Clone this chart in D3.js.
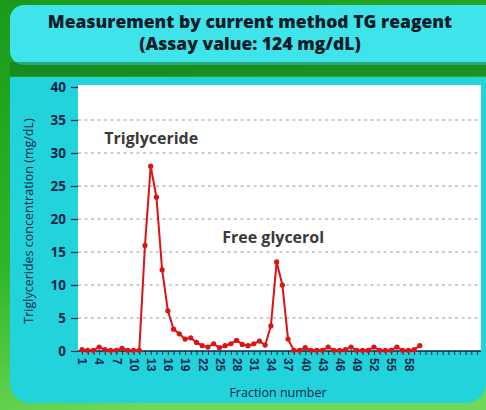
<!DOCTYPE html>
<html>
<head>
<meta charset="utf-8">
<script src="https://cdn.jsdelivr.net/npm/d3@7"></script>
<style>
  body { margin: 0; padding: 0; overflow: hidden; }
  svg { display: block; font-family: "Open Sans", "Noto Sans", sans-serif; }
</style>
</head>
<body>
<div id="graph"></div>
<script>
const width = 486;
const height = 410;

const fractions = d3.range(1, 61);
const values = [
  0.2, 0.1, 0.1, 0.6, 0.2, 0.1, 0.1, 0.4, 0.1, 0.1,
  0.1, 16.0, 28.0, 23.3, 12.3, 6.1, 3.3, 2.6, 1.8, 2.0,
  1.3, 0.8, 0.6, 1.1, 0.5, 0.8, 1.1, 1.6, 1.0, 0.8,
  1.1, 1.5, 0.9, 3.8, 13.5, 10.0, 1.8, 0.1, 0.1, 0.5,
  0.1, 0.1, 0.1, 0.6, 0.1, 0.1, 0.2, 0.6, 0.1, 0.1,
  0.1, 0.6, 0.1, 0.1, 0.1, 0.6, 0.1, 0.1, 0.2, 0.8
];
const y_ticks = [0, 5, 10, 15, 20, 25, 30, 35, 40];
const x_labels = d3.range(1, 59, 3);
const title_lines = ["Measurement by current method TG reagent", "(Assay value: 124 mg/dL)"];
const peak_labels = [
  { text: "Triglyceride", fraction: 4.9, value: 31.3 },
  { text: "Free glycerol", fraction: 25.5, value: 16.4 }
];

const plot = { left: 78, right: 481, top: 85, bottom: 351 };
const navy = "#0c2748";

const svg = d3.select("#graph").append("svg")
  .attr("width", width)
  .attr("height", height);

// background
const defs = svg.append("defs");
const bg = defs.append("linearGradient").attr("id", "bg")
  .attr("x1", 0).attr("y1", 0).attr("x2", 0.3).attr("y2", 1);
bg.append("stop").attr("offset", "0%").attr("stop-color", "#1a9a1a");
bg.append("stop").attr("offset", "60%").attr("stop-color", "#2fb52a");
bg.append("stop").attr("offset", "100%").attr("stop-color", "#6fd85a");
svg.append("rect").attr("width", width).attr("height", height).attr("fill", "url(#bg)");

// title box
svg.append("rect")
  .attr("x", 10).attr("y", 5).attr("width", 490).attr("height", 60)
  .attr("rx", 14).attr("fill", "#3fe3ea");
svg.append("rect")
  .attr("x", 10).attr("y", 62).attr("width", 480).attr("height", 14)
  .attr("fill", "#137a20").attr("opacity", 0.55);

// chart panel
svg.append("rect")
  .attr("x", 10).attr("y", 77).attr("width", 476).attr("height", 326)
  .attr("rx", 20).attr("fill", "#22d3dc");
svg.append("rect")
  .attr("x", 10).attr("y", 77).attr("width", 476).attr("height", 40)
  .attr("fill", "#22d3dc");

svg.append("g").selectAll("text")
  .data(title_lines)
  .join("text")
  .attr("x", 250)
  .attr("y", (d, i) => 28 + i * 22)
  .attr("text-anchor", "middle")
  .attr("font-size", 17.5)
  .attr("font-weight", 800)
  .attr("fill", "#0f1c2a")
  .text(d => d);

// plot area
svg.append("rect")
  .attr("x", plot.left).attr("y", plot.top)
  .attr("width", plot.right - plot.left).attr("height", plot.bottom - plot.top)
  .attr("fill", "#ffffff");

const x = d3.scaleLinear().domain([1, 70]).range([82, 477]);
const y = d3.scaleLinear().domain([0, 40]).range([plot.bottom, 87]);

// grid
svg.append("g").selectAll("line")
  .data(y_ticks.filter(d => d > 0 && d < 40))
  .join("line")
  .attr("x1", plot.left).attr("x2", plot.right)
  .attr("y1", d => y(d)).attr("y2", d => y(d))
  .attr("stroke", "#9a9a9a")
  .attr("stroke-width", 1.2)
  .attr("stroke-dasharray", "3,3.5");

// y axis
const yAxis = svg.append("g")
  .attr("transform", `translate(${plot.left},0)`)
  .call(d3.axisLeft(y).tickValues(y_ticks).tickSize(7).tickPadding(5));
yAxis.select(".domain").remove();
yAxis.selectAll(".tick line").attr("stroke", navy).attr("stroke-width", 1.2);
yAxis.selectAll(".tick text")
  .attr("font-size", 13.5)
  .attr("font-weight", "bold")
  .attr("font-family", "'Open Sans', sans-serif")
  .attr("fill", navy);

// x axis
const xAxis = svg.append("g")
  .attr("transform", `translate(0,${plot.bottom})`)
  .call(d3.axisBottom(x).tickValues(d3.range(1, 71)).tickSize(4).tickSizeOuter(0)
    .tickFormat(d => x_labels.includes(d) ? d : ""));
xAxis.select(".domain")
  .attr("d", `M${plot.left},0H${plot.right}`)
  .attr("stroke", navy).attr("stroke-width", 1.5);
xAxis.selectAll(".tick line").attr("stroke", navy);
xAxis.selectAll(".tick text")
  .attr("transform", "rotate(90)")
  .attr("x", 7).attr("y", 0).attr("dy", "0.35em")
  .attr("text-anchor", "start")
  .attr("font-size", 12)
  .attr("font-weight", "bold")
  .attr("fill", navy);

// axis titles
svg.append("text")
  .attr("transform", `translate(33,${(plot.top + plot.bottom) / 2 + 3}) rotate(-90)`)
  .attr("text-anchor", "middle")
  .attr("font-size", 12.5)
  .attr("fill", navy)
  .text("Triglycerides concentration (mg/dL)");

svg.append("text")
  .attr("x", 278).attr("y", 397)
  .attr("text-anchor", "middle")
  .attr("font-size", 12.5)
  .attr("fill", navy)
  .text("Fraction number");

// series
const pts = fractions.map((f, i) => [f, values[i]]);
svg.append("path")
  .datum(pts)
  .attr("fill", "none")
  .attr("stroke", "#dc1414")
  .attr("stroke-width", 2)
  .attr("d", d3.line().x(d => x(d[0])).y(d => y(d[1])));

svg.append("g").selectAll("circle")
  .data(pts)
  .join("circle")
  .attr("cx", d => x(d[0]))
  .attr("cy", d => y(d[1]))
  .attr("r", 2.6)
  .attr("fill", "#dc1414");

// peak labels
svg.append("g").selectAll("text")
  .data(peak_labels)
  .join("text")
  .attr("x", d => x(d.fraction))
  .attr("y", d => y(d.value))
  .attr("font-size", 16)
  .attr("font-weight", "bold")
  .attr("fill", "#3a3a3a")
  .text(d => d.text);
</script>
</body>
</html>
